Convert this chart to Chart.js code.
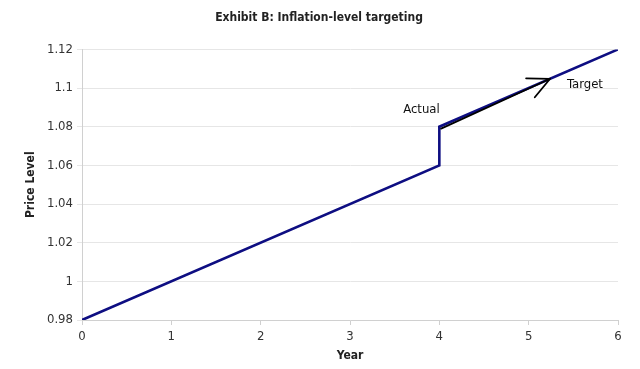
<!DOCTYPE html>
<html>
<head>
<meta charset="utf-8">
<script src="https://cdn.jsdelivr.net/npm/chart.js@4"></script>
<style>
  html, body { margin: 0; padding: 0; background: #fff; }
  #wrap { width: 640px; height: 369px; }
</style>
</head>
<body>
<div id="wrap"><canvas id="chart"></canvas></div>
<script>
// Price level path (year, level)
const years = [0, 4, 4, 6];
const priceLevel = [0.98, 1.06, 1.08, 1.12];
const yTicks = [0.98, 1, 1.02, 1.04, 1.06, 1.08, 1.1, 1.12];
const xTicks = [0, 1, 2, 3, 4, 5, 6];

// arrow annotation from "Actual" towards "Target"
const arrowFrom = { x: 4.02, y: 1.079 };
const arrowTo = { x: 5.24, y: 1.1048 };
const labels = [
    { text: 'Actual', x: 3.8, y: 1.089 },
    { text: 'Target', x: 5.63, y: 1.102 }
];

const FONT = "'DejaVu Sans Condensed', 'DejaVu Sans', sans-serif";

const annotations = {
    id: 'annotations',
    afterDatasetsDraw(chart) {
        const { ctx, scales: { x, y } } = chart;
        const x1 = x.getPixelForValue(arrowFrom.x), y1 = y.getPixelForValue(arrowFrom.y);
        const x2 = x.getPixelForValue(arrowTo.x), y2 = y.getPixelForValue(arrowTo.y);
        ctx.save();
        ctx.strokeStyle = '#000';
        ctx.lineWidth = 1.8;
        ctx.lineCap = 'round';
        ctx.beginPath();
        ctx.moveTo(x1, y1);
        ctx.lineTo(x2, y2);
        const ang = Math.atan2(y1 - y2, x1 - x2);
        const len = 24;
        [-0.45, 0.45].forEach(d => {
            ctx.moveTo(x2, y2);
            ctx.lineTo(x2 + len * Math.cos(ang + d), y2 + len * Math.sin(ang + d));
        });
        ctx.stroke();

        ctx.fillStyle = '#111';
        ctx.font = '13px ' + FONT;
        ctx.textAlign = 'center';
        ctx.textBaseline = 'middle';
        labels.forEach(l => {
            ctx.fillText(l.text, x.getPixelForValue(l.x), y.getPixelForValue(l.y));
        });
        ctx.restore();
    }
};

new Chart(document.getElementById('chart'), {
    type: 'scatter',
    data: {
        datasets: [{
            label: 'Price Level',
            data: years.map((yr, i) => ({ x: yr, y: priceLevel[i] })),
            showLine: true,
            borderColor: '#0e0e82',
            borderWidth: 2.6,
            pointRadius: 0,
            tension: 0
        }]
    },
    options: {
        responsive: true,
        maintainAspectRatio: false,
        animation: false,
        layout: { padding: { left: 20, right: 22, top: 0, bottom: 6 } },
        plugins: {
            legend: { display: false },
            tooltip: { enabled: false },
            title: {
                display: true,
                text: 'Exhibit B: Inflation-level targeting',
                color: '#222',
                font: { family: FONT, size: 12, weight: 'bold' },
                padding: { top: 11, bottom: 24 }
            }
        },
        scales: {
            x: {
                type: 'linear',
                min: 0,
                max: 6,
                afterBuildTicks: axis => { axis.ticks = xTicks.map(v => ({ value: v })); },
                grid: { drawOnChartArea: false, drawTicks: true, tickLength: 5, color: '#d0d0d0' },
                border: { color: '#d0d0d0' },
                ticks: { color: '#333', font: { family: FONT, size: 13 }, padding: 4 },
                title: {
                    display: true, text: 'Year', color: '#222',
                    font: { family: FONT, size: 12, weight: 'bold' }, padding: { top: 0, bottom: 0 }
                }
            },
            y: {
                min: 0.98,
                max: 1.12,
                afterBuildTicks: axis => { axis.ticks = yTicks.map(v => ({ value: v })); },
                afterFit: axis => { axis.width = 62; },
                grid: { color: '#e6e6e6', tickLength: 5 },
                border: { color: '#d0d0d0' },
                ticks: {
                    color: '#333', font: { family: FONT, size: 13 }, padding: 4,
                    callback: v => String(Math.round(v * 100) / 100)
                },
                title: {
                    display: true, text: 'Price Level', color: '#222',
                    font: { family: FONT, size: 12, weight: 'bold' }, padding: { bottom: 2 }
                }
            }
        }
    },
    plugins: [annotations]
});
</script>
</body>
</html>
